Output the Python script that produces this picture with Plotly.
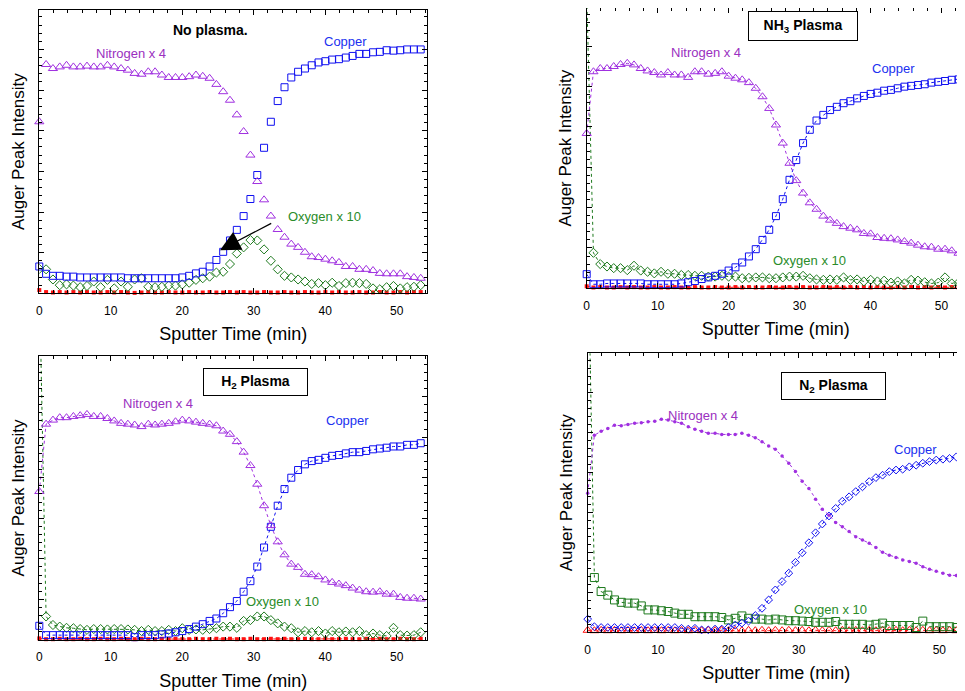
import plotly.graph_objects as go

# ---------------- data ----------------
T = [0.00, 0.95, 1.91, 2.86, 3.81, 4.77, 5.72, 6.67, 7.62, 8.58, 9.53, 10.48, 11.44, 12.39,
     13.34, 14.30, 15.25, 16.20, 17.15, 18.11, 19.06, 20.01, 20.97, 21.92, 22.87, 23.83,
     24.78, 25.73, 26.68, 27.64, 28.59, 29.54, 30.50, 31.45, 32.40, 33.36, 34.31, 35.26,
     36.21, 37.17, 38.12, 39.07, 40.03, 40.98, 41.93, 42.89, 43.84, 44.79, 45.74, 46.70,
     47.65, 48.60, 49.56, 50.51, 51.46, 52.42, 53.37]

X_TICKS = [0, 10, 20, 30, 40, 50]

# No plasma
NP_NITROGEN = [4.22, 5.63, 5.53, 5.57, 5.61, 5.57, 5.57, 5.59, 5.57, 5.57, 5.61, 5.57, 5.53, 5.49,
               5.41, 5.39, 5.45, 5.45, 5.37, 5.31, 5.31, 5.31, 5.33, 5.37, 5.34, 5.29, 5.14, 4.96,
               4.75, 4.39, 3.98, 3.40, 2.75, 2.30, 1.90, 1.57, 1.38, 1.21, 1.13, 1.01, 0.90, 0.88,
               0.84, 0.80, 0.76, 0.66, 0.66, 0.59, 0.59, 0.56, 0.49, 0.48, 0.48, 0.48, 0.41, 0.39, 0.37]
NP_COPPER = [0.66, 0.48, 0.43, 0.43, 0.41, 0.41, 0.39, 0.39, 0.39, 0.39, 0.39, 0.39, 0.39, 0.37,
             0.37, 0.37, 0.37, 0.37, 0.37, 0.37, 0.37, 0.39, 0.43, 0.49, 0.53, 0.66, 0.82, 1.02,
             1.30, 1.56, 1.90, 2.32, 2.91, 3.58, 4.22, 4.73, 5.07, 5.31, 5.45, 5.53, 5.61, 5.68,
             5.71, 5.75, 5.76, 5.80, 5.84, 5.89, 5.89, 5.93, 5.94, 5.98, 5.97, 5.98, 6.00, 6.00, 6.00]
NP_OXYGEN = [0.60, 0.59, 0.34, 0.20, 0.22, 0.19, 0.15, 0.18, 0.29, 0.15, 0.33, 0.12, 0.29, 0.16,
             0.34, 0.37, 0.16, 0.15, 0.16, 0.19, 0.19, 0.22, 0.26, 0.33, 0.37, 0.41, 0.51, 0.53,
             0.72, 0.98, 1.13, 1.31, 1.30, 1.08, 0.80, 0.59, 0.43, 0.39, 0.34, 0.29, 0.23, 0.25,
             0.20, 0.26, 0.18, 0.25, 0.26, 0.25, 0.23, 0.12, 0.10, 0.15, 0.18, 0.12, 0.15, 0.16, 0.20]
NP_RED = [0.08, 0.03, 0.02, 0.03, 0.02, 0.03, 0.02, 0.03, 0.02, 0.02, 0.03, 0.02, 0.03, 0.02,
          0.01, 0.02, 0.03, 0.02, 0.02, 0.03, 0.02, 0.02, 0.03, 0.02, 0.02, 0.03, 0.02, 0.02,
          0.03, 0.02, 0.03, 0.02, 0.02, 0.03, 0.02, 0.02, 0.03, 0.02, 0.02, 0.03, 0.02, 0.02,
          0.03, 0.02, 0.03, 0.02, 0.02, 0.03, 0.02, 0.02, 0.03, 0.02, 0.02, 0.03, 0.02, 0.03, 0.03]

# NH3 plasma
NH3_NITROGEN = [3.84, 5.37, 5.45, 5.45, 5.50, 5.55, 5.58, 5.54, 5.45, 5.39, 5.35, 5.29, 5.35, 5.29,
                5.29, 5.23, 5.37, 5.37, 5.31, 5.33, 5.37, 5.26, 5.21, 5.17, 5.10, 4.96, 4.75, 4.46,
                4.05, 3.60, 3.10, 2.67, 2.36, 2.12, 1.96, 1.79, 1.69, 1.61, 1.53, 1.49, 1.45, 1.36,
                1.35, 1.26, 1.24, 1.23, 1.20, 1.16, 1.12, 1.07, 1.03, 1.02, 0.97, 0.97, 0.93, 0.87, 0.89]
NH3_COPPER = [0.35, 0.10, 0.10, 0.12, 0.12, 0.12, 0.12, 0.12, 0.12, 0.10, 0.10, 0.10, 0.10, 0.10,
              0.12, 0.15, 0.18, 0.23, 0.27, 0.31, 0.36, 0.44, 0.52, 0.64, 0.79, 0.97, 1.20, 1.45,
              1.79, 2.21, 2.69, 3.18, 3.60, 3.93, 4.16, 4.30, 4.42, 4.50, 4.59, 4.64, 4.71, 4.77,
              4.82, 4.85, 4.90, 4.92, 4.96, 5.00, 5.02, 5.04, 5.06, 5.10, 5.12, 5.14, 5.17, 5.18, 5.21]
NH3_OXYGEN = [7.30, 0.88, 0.60, 0.54, 0.50, 0.50, 0.45, 0.56, 0.44, 0.41, 0.37, 0.41, 0.36, 0.36,
              0.33, 0.33, 0.31, 0.31, 0.29, 0.29, 0.31, 0.29, 0.29, 0.25, 0.26, 0.27, 0.27, 0.25,
              0.25, 0.27, 0.29, 0.29, 0.31, 0.25, 0.22, 0.21, 0.22, 0.21, 0.27, 0.21, 0.22, 0.17,
              0.21, 0.17, 0.19, 0.14, 0.17, 0.12, 0.21, 0.19, 0.15, 0.12, 0.14, 0.27, 0.12, 0.14, 0.17]
NH3_RED = [0.05, 0.02, 0.03, 0.02, 0.02, 0.03, 0.02, 0.03, 0.02, 0.02, 0.03, 0.02, 0.02, 0.03,
           0.02, 0.02, 0.03, 0.02, 0.02, 0.03, 0.02, 0.02, 0.03, 0.02, 0.03, 0.02, 0.02, 0.03,
           0.02, 0.02, 0.03, 0.02, 0.03, 0.02, 0.02, 0.03, 0.02, 0.03, 0.02, 0.03, 0.02, 0.03,
           0.02, 0.03, 0.02, 0.02, 0.03, 0.02, 0.03, 0.02, 0.03, 0.02, 0.03, 0.02, 0.03, 0.02, 0.03]

# H2 plasma
H2_NITROGEN = [3.66, 5.32, 5.42, 5.48, 5.48, 5.51, 5.53, 5.56, 5.51, 5.51, 5.46, 5.40, 5.34, 5.32,
               5.30, 5.26, 5.32, 5.30, 5.32, 5.34, 5.38, 5.42, 5.40, 5.37, 5.34, 5.32, 5.28, 5.15,
               5.07, 4.89, 4.63, 4.30, 3.84, 3.31, 2.82, 2.42, 2.10, 1.87, 1.79, 1.62, 1.61, 1.56,
               1.48, 1.42, 1.38, 1.34, 1.28, 1.23, 1.19, 1.18, 1.19, 1.13, 1.13, 1.05, 1.03, 1.03, 1.01]
H2_COPPER = [0.35, 0.12, 0.12, 0.12, 0.12, 0.12, 0.12, 0.12, 0.12, 0.12, 0.12, 0.12, 0.12, 0.12,
             0.07, 0.12, 0.12, 0.12, 0.14, 0.16, 0.19, 0.22, 0.27, 0.33, 0.39, 0.47, 0.53, 0.66,
             0.81, 0.96, 1.19, 1.45, 1.81, 2.28, 2.79, 3.31, 3.72, 4.00, 4.19, 4.33, 4.41, 4.44,
             4.49, 4.54, 4.56, 4.60, 4.63, 4.63, 4.66, 4.70, 4.72, 4.74, 4.77, 4.77, 4.81, 4.81, 4.85]
H2_OXYGEN = [9.00, 0.58, 0.37, 0.33, 0.30, 0.29, 0.27, 0.25, 0.27, 0.27, 0.26, 0.27, 0.27, 0.26,
             0.25, 0.22, 0.25, 0.22, 0.22, 0.25, 0.22, 0.29, 0.25, 0.26, 0.25, 0.27, 0.29, 0.33,
             0.33, 0.30, 0.47, 0.49, 0.58, 0.58, 0.49, 0.41, 0.33, 0.29, 0.19, 0.22, 0.19, 0.22,
             0.16, 0.22, 0.19, 0.21, 0.19, 0.22, 0.12, 0.16, 0.12, 0.10, 0.30, 0.12, 0.11, 0.12, 0.19]
H2_RED = [0.04, 0.02, 0.02, 0.03, 0.02, 0.02, 0.03, 0.02, 0.02, 0.03, 0.02, 0.02, 0.03, 0.02,
          0.02, 0.03, 0.02, 0.02, 0.03, 0.02, 0.03, 0.02, 0.02, 0.03, 0.02, 0.02, 0.03, 0.02,
          0.03, 0.02, 0.02, 0.03, 0.02, 0.02, 0.03, 0.02, 0.03, 0.02, 0.02, 0.03, 0.02, 0.02,
          0.03, 0.02, 0.02, 0.03, 0.02, 0.02, 0.03, 0.02, 0.03, 0.02, 0.02, 0.03, 0.02, 0.02, 0.03]

# N2 plasma
N2_NITROGEN = [3.48, 4.93, 5.03, 5.10, 5.18, 5.17, 5.20, 5.23, 5.24, 5.27, 5.28, 5.33, 5.31, 5.27,
               5.23, 5.14, 5.08, 5.03, 4.98, 4.98, 4.95, 4.95, 4.95, 4.98, 4.93, 4.87, 4.77, 4.66,
               4.58, 4.41, 4.23, 4.02, 3.78, 3.60, 3.33, 3.08, 2.93, 2.75, 2.64, 2.52, 2.39, 2.31,
               2.23, 2.12, 2.00, 1.93, 1.87, 1.81, 1.77, 1.73, 1.64, 1.58, 1.53, 1.48, 1.43, 1.42, 1.37]
N2_COPPER = [0.33, 0.14, 0.12, 0.12, 0.12, 0.12, 0.12, 0.12, 0.12, 0.12, 0.12, 0.12, 0.12, 0.12,
             0.10, 0.08, 0.10, 0.06, 0.06, 0.08, 0.08, 0.12, 0.18, 0.23, 0.28, 0.42, 0.60, 0.81,
             1.06, 1.27, 1.48, 1.75, 1.99, 2.24, 2.49, 2.71, 2.91, 3.10, 3.28, 3.39, 3.52, 3.64,
             3.77, 3.87, 3.93, 4.02, 4.06, 4.08, 4.14, 4.18, 4.23, 4.27, 4.31, 4.33, 4.35, 4.39, 4.42]
N2_OXYGEN = [10.0, 1.37, 1.02, 0.93, 0.81, 0.75, 0.73, 0.73, 0.66, 0.56, 0.56, 0.54, 0.52, 0.48,
             0.45, 0.45, 0.39, 0.39, 0.39, 0.39, 0.37, 0.31, 0.35, 0.41, 0.35, 0.33, 0.33, 0.31,
             0.33, 0.31, 0.29, 0.29, 0.28, 0.27, 0.25, 0.25, 0.25, 0.27, 0.20, 0.20, 0.20, 0.20,
             0.18, 0.20, 0.23, 0.17, 0.17, 0.17, 0.17, 0.12, 0.28, 0.14, 0.14, 0.14, 0.14, 0.12, 0.18]
N2_RED = [0.05, 0.04, 0.05, 0.04, 0.05, 0.04, 0.05, 0.04, 0.05, 0.04, 0.05, 0.04, 0.05, 0.04,
          0.05, 0.04, 0.05, 0.04, 0.05, 0.04, 0.05, 0.04, 0.05, 0.04, 0.05, 0.04, 0.05, 0.04,
          0.05, 0.04, 0.05, 0.04, 0.05, 0.04, 0.05, 0.04, 0.05, 0.04, 0.05, 0.04, 0.05, 0.04,
          0.05, 0.04, 0.05, 0.04, 0.05, 0.04, 0.05, 0.04, 0.05, 0.04, 0.05, 0.04, 0.05, 0.04, 0.05]

PANEL_TITLES = ["No plasma.", "NH<sub>3</sub> Plasma", "H<sub>2</sub> Plasma", "N<sub>2</sub> Plasma"]
SERIES_LABELS = ["Nitrogen x 4", "Copper", "Oxygen x 10"]

# ---------------- style ----------------
PURPLE = "#A030E0"
PURPLE_TXT = "#9A30C0"
BLUE = "#1010F0"
BLUE_TXT = "#2030F0"
GREEN = "#1E7A1E"
GREEN_TXT = "#2A8C2A"
RED = "#FF1010"
FONT = "Liberation Sans, Arial, sans-serif"

# the page body has an 8px margin, so the figure is drawn 8px in from the window corner
OFF = 8
WIN_W, WIN_H = 965, 691
W, H = WIN_W - OFF, WIN_H - OFF

# subplot pixel boxes in window coordinates: (left, right, top, bottom, xmax, ymax)
BOXES = [
    (39.3, 427.0, 10.0, 293.3, 54.25, 6.97),
    (586.7, 965.0, 6.0, 288.3, 53.33, 7.0),
    (39.3, 427.0, 356.0, 640.0, 54.25, 7.0),
    (587.7, 965.0, 353.3, 632.3, 53.65, 6.98),
]

DATA = [
    (NP_NITROGEN, NP_COPPER, NP_OXYGEN, NP_RED),
    (NH3_NITROGEN, NH3_COPPER, NH3_OXYGEN, NH3_RED),
    (H2_NITROGEN, H2_COPPER, H2_OXYGEN, H2_RED),
    (N2_NITROGEN, N2_COPPER, N2_OXYGEN, N2_RED),
]

# label positions (data coordinates) per panel: nitrogen, copper, oxygen
LABEL_POS = [
    [(12.8, 5.90), (42.9, 6.19), (39.9, 1.90)],
    [(16.8, 5.84), (43.2, 5.44), (31.4, 0.69)],
    [(16.6, 5.83), (43.1, 5.42), (34.0, 0.96)],
    [(16.4, 5.43), (46.6, 4.58), (34.5, 0.58)],
]
TITLE_POS = [(23.9, 6.48), (30.55, 6.50), (30.25, 6.36), (34.9, 6.17)]
TITLE_BOX = [None, (106, 26), (101, 24), (101, 24)]

fig = go.Figure()

for k in range(4):
    xa = "x" if k == 0 else f"x{k+1}"
    ya = "y" if k == 0 else f"y{k+1}"
    nit, cu, oxy, red = DATA[k]
    connect = k > 0
    mode = "lines+markers" if connect else "markers"
    dot = dict(dash="dot", width=1)

    if k < 3:
        styles = [
            (red, dict(symbol="square", size=4, color=RED), RED, False),
            (oxy, dict(symbol="diamond-open", size=7, color=GREEN, line=dict(width=1, color=GREEN)), GREEN, True),
            (cu, dict(symbol="square-open", size=7, color=BLUE, line=dict(width=1, color=BLUE)), BLUE, False),
            (nit, dict(symbol="triangle-up-open", size=8, color=PURPLE, line=dict(width=1, color=PURPLE)), PURPLE, False),
        ]
    else:
        styles = [
            (red, dict(symbol="triangle-up-open", size=8, color=RED, line=dict(width=1, color=RED)), RED, False),
            (oxy, dict(symbol="square-open", size=8, color=GREEN, line=dict(width=1, color=GREEN)), GREEN, True),
            (cu, dict(symbol="diamond-open", size=6, color=BLUE, line=dict(width=1, color=BLUE)), BLUE, False),
            (nit, dict(symbol="circle", size=3.5, color=PURPLE), PURPLE, False),
        ]
    for vals, mk, col, clip in styles:
        fig.add_trace(go.Scatter(
            x=T[:len(vals)], y=vals, mode=mode, marker=mk,
            line=dict(color=col, **dot), xaxis=xa, yaxis=ya,
            showlegend=False, cliponaxis=clip, hoverinfo="skip"))

    left, right, top, bottom, xmax, ymax = BOXES[k]
    # keep boxes inside the drawable area (window minus body margin)
    if top < OFF:
        ymax -= (OFF - top) * ymax / (bottom - top)
        top = OFF
    left, right, top, bottom = left - OFF, right - OFF, top - OFF, bottom - OFF
    axis_common = dict(showline=True, linecolor="black", linewidth=1, mirror="allticks",
                       ticks="inside", tickcolor="black", showgrid=False, zeroline=False,
                       automargin=False)
    fig.layout[("xaxis" if k == 0 else f"xaxis{k+1}")] = dict(
        domain=[left / W, min(right / W, 1.0)], anchor=ya, range=[0, xmax],
        tickvals=X_TICKS, ticklen=5, tickwidth=1, ticklabelstandoff=6,
        minor=dict(dtick=2, tick0=0, ticks="inside", ticklen=3, tickcolor="black", showgrid=False),
        tickfont=dict(family=FONT, size=12, color="black"),
        title=dict(text="Sputter Time (min)", font=dict(family=FONT, size=18, color="black"), standoff=10),
        **axis_common)
    fig.layout[("yaxis" if k == 0 else f"yaxis{k+1}")] = dict(
        domain=[max(1 - bottom / H, 0.0), min(1 - top / H, 1.0)], anchor=xa, range=[0, ymax],
        dtick=1, tick0=0, ticklen=5, tickwidth=1, showticklabels=False,
        minor=dict(dtick=0.2, tick0=0, ticks="inside", ticklen=3, tickcolor="black", showgrid=False),
        title=dict(text="Auger Peak Intensity", font=dict(family=FONT, size=17, color="black"), standoff=9),
        **axis_common)

    # series labels
    for (lx, ly), txt, col in zip(LABEL_POS[k], SERIES_LABELS, [PURPLE_TXT, BLUE_TXT, GREEN_TXT]):
        fig.add_annotation(x=lx, y=ly, xref=xa, yref=ya, text=txt, showarrow=False,
                           font=dict(family=FONT, size=13, color=col))
    # panel title
    tx, ty = TITLE_POS[k]
    box = TITLE_BOX[k]
    if box is None:
        fig.add_annotation(x=tx, y=ty, xref=xa, yref=ya, text=f"<b>{PANEL_TITLES[k]}</b>",
                           showarrow=False, font=dict(family=FONT, size=14, color="black"))
    else:
        fig.add_annotation(x=tx, y=ty, xref=xa, yref=ya, text=f"<b>{PANEL_TITLES[k]}</b>",
                           showarrow=False, font=dict(family=FONT, size=14, color="black"),
                           width=box[0], height=box[1], bordercolor="black", borderwidth=1,
                           borderpad=1, bgcolor="white")

# arrow in the "No plasma" panel pointing at the oxygen peak
fig.add_annotation(x=25.28, y=1.06, ax=32.66, ay=1.74, xref="x", yref="y", axref="x", ayref="y",
                   text="", showarrow=True, arrowhead=2, arrowsize=3.1, arrowwidth=1.3,
                   arrowcolor="black", standoff=0)

fig.update_layout(width=W, height=H, margin=dict(l=0, r=0, t=0, b=0),
                  paper_bgcolor="white", plot_bgcolor="white",
                  font=dict(family=FONT))

fig.write_html("out.html")
